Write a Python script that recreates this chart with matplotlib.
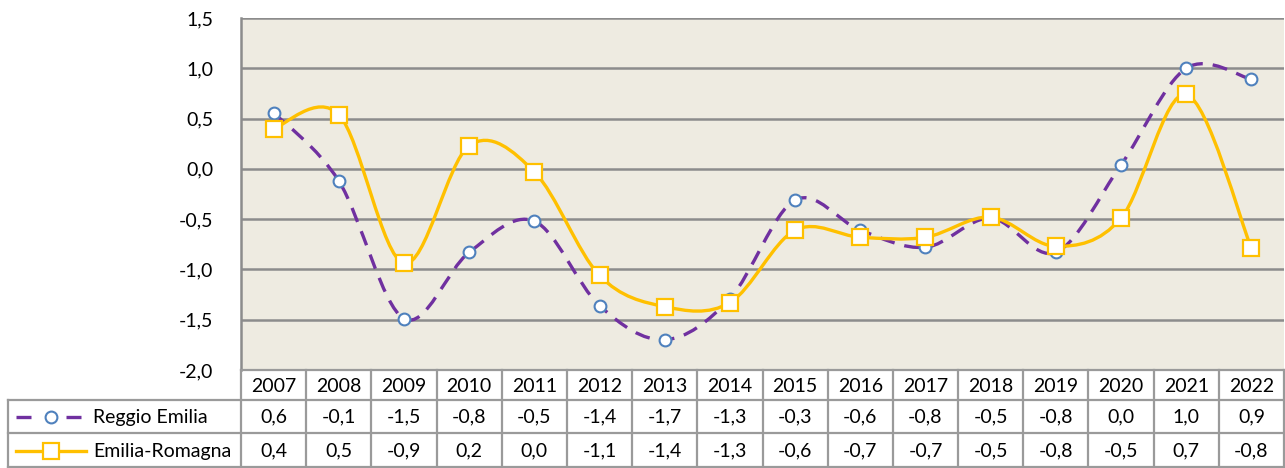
"""Reggio Emilia vs Emilia-Romagna line chart with data table below."""

import matplotlib
matplotlib.use("Agg")
import matplotlib.pyplot as plt
import numpy as np
from matplotlib.path import Path
from matplotlib.patches import PathPatch
from matplotlib.lines import Line2D
import matplotlib.transforms as mtransforms

plt.rcParams["font.family"] = ["Lato", "DejaVu Sans"]

years = ["2007", "2008", "2009", "2010", "2011", "2012", "2013", "2014",
         "2015", "2016", "2017", "2018", "2019", "2020", "2021", "2022"]
reggio = [0.56, -0.12, -1.49, -0.83, -0.52, -1.36, -1.70, -1.29,
          -0.31, -0.61, -0.78, -0.49, -0.83, 0.04, 1.00, 0.89]
emilia = [0.40, 0.54, -0.94, 0.23, -0.03, -1.06, -1.37, -1.33,
          -0.61, -0.68, -0.68, -0.48, -0.77, -0.49, 0.74, -0.79]
series_names = ["Reggio Emilia", "Emilia-Romagna"]
yticks = [-2.0, -1.5, -1.0, -0.5, 0.0, 0.5, 1.0, 1.5]

PURPLE = "#7030A0"
BLUE = "#4F81BD"
GOLD = "#FFC000"
GRID = "#8C8C8C"
TABLE = "#9A9A9A"
FS = 14


def smooth_path(x, y):
    """Bezier path through the points, like a spreadsheet smoothed line."""
    pts = np.column_stack([x, y]).astype(float)
    ext = np.vstack([pts[0], pts, pts[-1]])
    verts = [pts[0]]
    codes = [Path.MOVETO]
    for i in range(len(pts) - 1):
        p0, p1, p2, p3 = ext[i], ext[i + 1], ext[i + 2], ext[i + 3]
        c1 = p1 + (p2 - p0) / 6.0
        c2 = p2 - (p3 - p1) / 6.0
        verts += [c1, c2, p2]
        codes += [Path.CURVE4] * 3
    return Path(verts, codes)


def fmt(v):
    s = f"{v:.1f}"
    if s == "-0.0":
        s = "0.0"
    return s.replace(".", ",")


W, H = 1285, 468
fig = plt.figure(figsize=(W / 100, H / 100), dpi=100)
ax_l, ax_r, ax_t, ax_b = 241, 1284, 18, 370
ax = fig.add_axes([ax_l / W, 1 - ax_b / H, (ax_r - ax_l) / W, (ax_b - ax_t) / H])
ax.set_facecolor("#EEEBE1")

x = np.arange(len(years))
ax.set_xlim(-0.5, len(years) - 0.5)
ax.set_ylim(-2.0, 1.5)
ax.set_yticks(yticks)
ax.set_yticklabels([f"{t:.1f}".replace(".", ",") for t in yticks], fontsize=FS)
ax.tick_params(axis="y", length=0, pad=20)
ax.set_xticks([])
for t in yticks:
    ax.axhline(t, color=GRID, lw=1.8, zorder=1)
for s in ["top", "right", "bottom"]:
    ax.spines[s].set_visible(False)
ax.spines["left"].set_color(GRID)
ax.spines["left"].set_linewidth(1.8)

# Reggio Emilia (dashed purple, circle markers) - drawn first, underneath
ax.add_patch(PathPatch(smooth_path(x, reggio), facecolor="none", edgecolor=PURPLE,
                       lw=2.4, ls=(0, (4.5, 3.0)), zorder=3, capstyle="butt"))
ax.plot(x, reggio, ls="none", marker="o", ms=8.5, mfc="white", mec=BLUE,
        mew=1.5, zorder=4)

# Emilia-Romagna (solid gold, square markers) on top
ax.add_patch(PathPatch(smooth_path(x, emilia), facecolor="none", edgecolor=GOLD,
                       lw=2.4, zorder=5, capstyle="round"))
ax.plot(x, emilia, ls="none", marker="s", ms=11, mfc="white", mec=GOLD,
        mew=1.6, zorder=6)

# Data table below the axes
ftr = fig.transFigure
blend = mtransforms.blended_transform_factory(ax.transData, ftr)


def fy(py):
    return 1 - py / H


legend_left = 8
lkw = dict(color=TABLE, lw=1.6, clip_on=False)
# horizontal lines
fig.add_artist(Line2D([ax_l / W, 1], [fy(370), fy(370)], transform=ftr, **lkw))
for py in [400, 433, 467]:
    fig.add_artist(Line2D([legend_left / W, 1], [fy(py), fy(py)], transform=ftr, **lkw))
# vertical lines
fig.add_artist(Line2D([legend_left / W] * 2, [fy(400), fy(468)], transform=ftr, **lkw))
for b in np.arange(len(years) + 1) - 0.5:
    fig.add_artist(Line2D([b, b], [fy(370), fy(468)], transform=blend, **lkw))

for i, yr in enumerate(years):
    fig.text(i, fy(386), yr, transform=blend, ha="center", va="center", fontsize=FS)
    fig.text(i, fy(417), fmt(reggio[i]), transform=blend, ha="center", va="center", fontsize=FS)
    fig.text(i, fy(451), fmt(emilia[i]), transform=blend, ha="center", va="center", fontsize=FS)

# legend keys in the table
fig.add_artist(Line2D([16 / W, 86 / W], [fy(417)] * 2, transform=ftr, color=PURPLE,
                      lw=2.4, ls=(0, (4.5, 10.5))))
fig.add_artist(Line2D([51 / W], [fy(417)], transform=ftr, ls="none", marker="o",
                      ms=8.5, mfc="white", mec=BLUE, mew=1.5))
fig.add_artist(Line2D([16 / W, 86 / W], [fy(451)] * 2, transform=ftr, color=GOLD, lw=2.4))
fig.add_artist(Line2D([51 / W], [fy(451)], transform=ftr, ls="none", marker="s",
                      ms=11, mfc="white", mec=GOLD, mew=1.6))
fig.text(93 / W, fy(417), series_names[0], ha="left", va="center", fontsize=FS)
fig.text(93 / W, fy(451), series_names[1], ha="left", va="center", fontsize=FS)

fig.savefig("out.png", dpi=100)
